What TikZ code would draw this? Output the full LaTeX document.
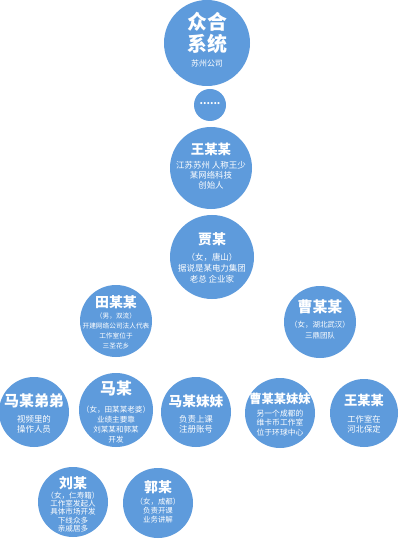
\documentclass[tikz,border=0pt]{standalone}
\usepackage{fontspec}
\setmainfont{Noto Sans CJK SC}
\usetikzlibrary{backgrounds}
\definecolor{bub}{RGB}{94,155,220}
\definecolor{lnk}{RGB}{112,165,218}
\tikzset{
 bubble/.style={circle,fill=bub,draw=none,inner sep=0pt,minimum size=#1},
 conn/.style={draw=lnk,line width=2.2bp,rounded corners=6bp},
 ttl/.style args={#1/#2}{text=white,inner sep=0pt,align=center,font={\fontsize{#1}{#2}\selectfont\bfseries}},
 dsc/.style args={#1/#2}{text=white,inner sep=0pt,align=center,font={\fontsize{#1}{#2}\selectfont}},
}
\begin{document}
\begin{tikzpicture}[x=1bp,y=-1bp]
\useasboundingbox[fill=white] (0,0) rectangle (403,549);
% bubbles
\node[bubble=86bp] (top) at (207,43) {};
\node[bubble=32bp] (dots) at (210,105) {};
\node[bubble=82bp] (wang1) at (211,168) {};
\node[bubble=84bp] (jia) at (212,257) {};
\node[bubble=72bp] (tian) at (116,321) {};
\node[bubble=72bp] (cao) at (320,322) {};
\node[bubble=70bp] (mdd) at (34,412) {};
\node[bubble=74bp] (ma) at (116,410) {};
\node[bubble=70bp] (mmm) at (196,412) {};
\node[bubble=70bp] (czz) at (280,413) {};
\node[bubble=68bp] (wang2) at (364,413) {};
\node[bubble=70bp] (liu) at (73,502) {};
\node[bubble=70bp] (guo) at (158,503) {};
% connectors
\coordinate (t1) at (116,367);
\coordinate (c1) at (320,367);
\coordinate (m1) at (116,458);
\begin{scope}[on background layer]
\draw[conn] (top) -- (dots);
\draw[conn] (dots) -- (wang1);
\draw[conn] (wang1) -- (jia);
\draw[conn] (tian) |- (jia);
\draw[conn] (jia) -| (cao);
\draw[conn] (tian) -- (ma);
\draw[conn] (mdd) |- (t1) -| (mmm);
\draw[conn] (cao) -- (c1);
\draw[conn] (czz) |- (c1) -| (wang2);
\draw[conn] (ma) -- (m1);
\draw[conn] (liu) |- (m1) -| (guo);
\end{scope}
% texts
\node[ttl=20/22] (topT) at (207,33) {众合\\系统};
\node[dsc=8/10] (topD) at (207,63) {苏州公司};
\node[ttl=10/10] (dotsT) at (210,104) {......};
\node[ttl=13.5/15] (wang1T) at (211,149) {王某某};
\node[dsc=8.5/10] (wang1D) at (211,175) {江苏苏州 人称王少\\某网络科技\\创始人};
\node[ttl=14/15] (jiaT) at (212,239) {贾某};
\node[dsc=8.5/11] (jiaD) at (212,268) {（女，唐山）\\据说是某电力集团\\老总 企业家};
\node[ttl=14/15] (tianT) at (116,302) {田某某};
\node[dsc=6.7/10.2] (tianD) at (116,331) {（男，双流）\\开建网络公司法人代表\\工作室位于\\三圣花乡};
\node[ttl=15/16] (caoT) at (320,307) {曹某某};
\node[dsc=7.5/11] (caoD) at (320,330) {（女，湖北武汉）\\三鼎团队};
\node[ttl=15/16] (mddT) at (34,401) {马某弟弟};
\node[dsc=8.5/10] (mddD) at (34,424) {视频里的\\操作人员};
\node[ttl=16/17] (maT) at (116,388) {马某};
\node[dsc=7.6/10] (maD) at (116,425) {（女，田某某老婆）\\业绩主要靠\\刘某某和郭某\\开发};
\node[ttl=13.7/15] (mmmT) at (196,401) {马某妹妹};
\node[dsc=8.5/10] (mmmD) at (196,424) {负责上课\\注册账号};
\node[ttl=12.3/14] (czzT) at (280,399) {曹某某妹妹};
\node[dsc=7.8/9.5] (czzD) at (280,423) {另一个成都的\\维卡币工作室\\位于环球中心};
\node[ttl=13.3/15] (wang2T) at (364,400) {王某某};
\node[dsc=8.3/9.5] (wang2D) at (364,424.5) {工作室在\\河北保定};
\node[ttl=14/15] (liuT) at (73,483) {刘某};
\node[dsc=7.6/8.5] (liuD) at (73,512) {（女，仁寿籍）\\工作室发起人\\具体市场开发\\下线众多\\亲戚居多};
\node[ttl=14/15] (guoT) at (158,487) {郭某};
\node[dsc=7.5/9] (guoD) at (158,511) {（女，成都）\\负责开课\\业务讲解};
\end{tikzpicture}
\end{document}
